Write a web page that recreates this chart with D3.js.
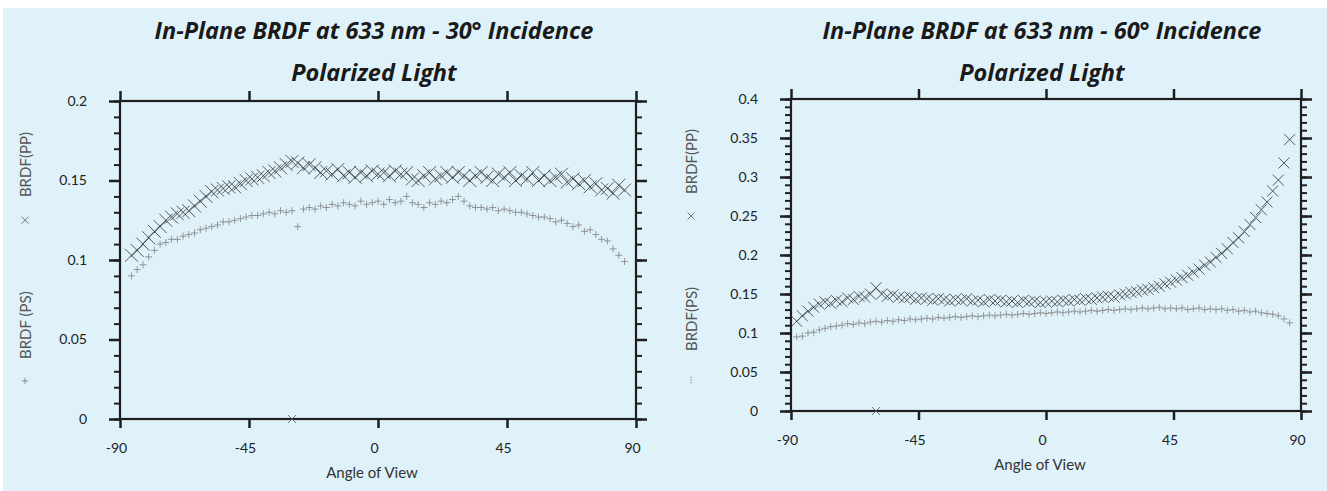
<!DOCTYPE html>
<html>
<head>
<meta charset="utf-8">
<script src="https://cdn.jsdelivr.net/npm/d3@7"></script>
<style>
  body { margin: 0; background: #fff; }
  svg { display: block; }
  .axis text { font-family: Lato, "Open Sans", sans-serif; font-size: 14px; fill: #222; }
  .title { font-family: "Open Sans", sans-serif; font-weight: bold; font-style: italic; font-size: 23.5px; fill: #1a1a1a; }
  .ylab { font-family: Lato, "Open Sans", sans-serif; font-size: 15px; fill: #555; }
  .xlab { font-family: Lato, "Open Sans", sans-serif; font-size: 15px; fill: #333; }
</style>
</head>
<body>
<script>
// ---- data ----
const xTicks = [-90, -45, 0, 45, 90];

// 30 deg incidence
const angles30 = [
  -86, -84, -82, -80, -78, -76, -74, -72, -70, -68,
  -66, -64, -62, -60, -58, -56, -54, -52, -50, -48,
  -46, -44, -42, -40, -38, -36, -34, -32, -30, -28,
  -26, -24, -22, -20, -18, -16, -14, -12, -10, -8,
  -6, -4, -2, 0, 2, 4, 6, 8, 10, 12,
  14, 16, 18, 20, 22, 24, 26, 28, 30, 32,
  34, 36, 38, 40, 42, 44, 46, 48, 50, 52,
  54, 56, 58, 60, 62, 64, 66, 68, 70, 72,
  74, 76, 78, 80, 82, 84, 86];
const pp30 = [
  0.103, 0.106, 0.110, 0.114, 0.118, 0.121, 0.125, 0.127, 0.129, 0.130,
  0.131, 0.134, 0.137, 0.140, 0.143, 0.144, 0.145, 0.146, 0.146, 0.148,
  0.150, 0.151, 0.152, 0.153, 0.155, 0.156, 0.158, 0.160, 0.162, 0.161,
  0.158, 0.160, 0.158, 0.155, 0.156, 0.154, 0.157, 0.153, 0.155, 0.152,
  0.155, 0.153, 0.156, 0.154, 0.155, 0.153, 0.156, 0.154, 0.155, 0.151,
  0.150, 0.153, 0.155, 0.151, 0.153, 0.155, 0.152, 0.155, 0.153, 0.150,
  0.153, 0.155, 0.152, 0.150, 0.154, 0.152, 0.155, 0.150, 0.153, 0.151,
  0.155, 0.150, 0.153, 0.150, 0.152, 0.154, 0.149, 0.151, 0.148, 0.150,
  0.146, 0.148, 0.144, 0.145, 0.142, 0.147, 0.144];
const ps30 = [
  0.090, 0.094, 0.097, 0.102, 0.106, 0.110, 0.111, 0.113, 0.113, 0.115,
  0.116, 0.117, 0.119, 0.120, 0.121, 0.122, 0.124, 0.124, 0.125, 0.126,
  0.127, 0.128, 0.128, 0.129, 0.130, 0.129, 0.131, 0.130, 0.131, 0.121,
  0.132, 0.133, 0.132, 0.134, 0.133, 0.135, 0.134, 0.136, 0.135, 0.134,
  0.137, 0.135, 0.136, 0.137, 0.135, 0.138, 0.136, 0.137, 0.140, 0.136,
  0.135, 0.133, 0.136, 0.135, 0.137, 0.136, 0.138, 0.140, 0.137, 0.134,
  0.133, 0.133, 0.132, 0.133, 0.131, 0.132, 0.131, 0.130, 0.130, 0.129,
  0.128, 0.127, 0.127, 0.126, 0.124, 0.125, 0.123, 0.121, 0.122, 0.118,
  0.119, 0.116, 0.113, 0.112, 0.107, 0.103, 0.099];
const yTicks30 = [0, 0.05, 0.1, 0.15, 0.2];
const blocked30 = [-30];   // detector blocks the retro direction: value 0

// 60 deg incidence
const angles60 = [
  -88, -86, -84, -82, -80, -78, -76, -74, -72, -70,
  -68, -66, -64, -62, -60, -58, -56, -54, -52, -50,
  -48, -46, -44, -42, -40, -38, -36, -34, -32, -30,
  -28, -26, -24, -22, -20, -18, -16, -14, -12, -10,
  -8, -6, -4, -2, 0, 2, 4, 6, 8, 10,
  12, 14, 16, 18, 20, 22, 24, 26, 28, 30,
  32, 34, 36, 38, 40, 42, 44, 46, 48, 50,
  52, 54, 56, 58, 60, 62, 64, 66, 68, 70,
  72, 74, 76, 78, 80, 82, 84, 86];
const pp60 = [
  0.115, 0.122, 0.128, 0.133, 0.137, 0.140, 0.138, 0.142, 0.140, 0.145,
  0.143, 0.147, 0.146, 0.150, 0.158, 0.150, 0.147, 0.149, 0.146, 0.145,
  0.146, 0.143, 0.145, 0.144, 0.142, 0.144, 0.143, 0.141, 0.143, 0.142,
  0.144, 0.141, 0.142, 0.140, 0.143, 0.141, 0.142, 0.140, 0.141, 0.139,
  0.142, 0.140, 0.141, 0.139, 0.140, 0.141, 0.140, 0.142, 0.141, 0.143,
  0.142, 0.144, 0.143, 0.145, 0.146, 0.147, 0.146, 0.149, 0.150, 0.152,
  0.153, 0.155, 0.156, 0.158, 0.160, 0.163, 0.165, 0.168, 0.171, 0.174,
  0.178, 0.182, 0.187, 0.191, 0.197, 0.202, 0.208, 0.216, 0.222, 0.230,
  0.239, 0.248, 0.258, 0.268, 0.282, 0.296, 0.318, 0.348];
const ps60 = [
  0.095, 0.096, 0.100, 0.101, 0.104, 0.106, 0.108, 0.109, 0.110, 0.112,
  0.111, 0.113, 0.112, 0.114, 0.115, 0.114, 0.116, 0.115, 0.117, 0.116,
  0.118, 0.117, 0.118, 0.119, 0.118, 0.120, 0.119, 0.120, 0.121, 0.120,
  0.121, 0.122, 0.121, 0.122, 0.123, 0.122, 0.123, 0.124, 0.123, 0.124,
  0.125, 0.124, 0.125, 0.126, 0.125, 0.126, 0.127, 0.126, 0.127, 0.128,
  0.127, 0.128, 0.129, 0.128, 0.129, 0.130, 0.129, 0.130, 0.131, 0.130,
  0.131, 0.132, 0.131, 0.132, 0.133, 0.131, 0.132, 0.131, 0.132, 0.130,
  0.131, 0.132, 0.130, 0.131, 0.130, 0.131, 0.129, 0.130, 0.128, 0.129,
  0.127, 0.128, 0.126, 0.125, 0.124, 0.122, 0.118, 0.113];
const yTicks60 = [0, 0.05, 0.1, 0.15, 0.2, 0.25, 0.3, 0.35, 0.4];
const blocked60 = [-60];

// ---- drawing ----
const W = 1327, H = 491;

const svg = d3.select('body').append('svg')
  .attr('width', W)
  .attr('height', H);

svg.append('rect')
  .attr('x', 3).attr('y', 8)
  .attr('width', W - 3).attr('height', H - 8)
  .attr('fill', '#dff2fa');

const panels = [
  { left: 120, top: 101, width: 516, height: 318, yMax: 0.2, yTicks: yTicks30,
    title: 'In-Plane BRDF at 633 nm - 30\u00b0 Incidence',
    angles: angles30, pp: pp30, ps: ps30, blocked: blocked30,
    ppSize: 6.5, psLabel: 'BRDF (PS)', psGlyph: 'plus', lx: -95 },
  { left: 791, top: 99, width: 510, height: 312, yMax: 0.4, yTicks: yTicks60,
    title: 'In-Plane BRDF at 633 nm - 60\u00b0 Incidence',
    angles: angles60, pp: pp60, ps: ps60, blocked: blocked60,
    ppSize: 5.5, psLabel: 'BRDF(PS)', psGlyph: 'dots', lx: -100 }
];

const cross = s => `M${-s},${-s}L${s},${s}M${-s},${s}L${s},${-s}`;
const plus = s => `M${-s},0L${s},0M0,${-s}L0,${s}`;
const fmt = d => String(+d.toFixed(2));

const styleTicks = (sel, w) => {
  sel.select('.domain').remove();
  sel.selectAll('.tick line').attr('stroke', '#1e1e1e').attr('stroke-width', w);
};

panels.forEach(p => {
  const x = d3.scaleLinear().domain([-90, 90]).range([0, p.width]);
  const y = d3.scaleLinear().domain([0, p.yMax]).range([p.height, 0]);
  const minor = d3.range(0, Math.round(p.yMax * 100) + 1).map(i => i / 100);
  const cx = p.left + p.width / 2;

  // titles
  svg.append('text').attr('class', 'title')
    .attr('x', cx - 4).attr('y', 39).attr('text-anchor', 'middle')
    .text(p.title);
  svg.append('text').attr('class', 'title')
    .attr('x', cx - 4).attr('y', 81).attr('text-anchor', 'middle')
    .text('Polarized Light');

  const g = svg.append('g')
    .attr('transform', `translate(${p.left},${p.top})`);

  // y axes (left + right), minor and major
  g.append('g').attr('class', 'axis')
    .call(d3.axisLeft(y).tickValues(minor).tickSize(6).tickFormat(''))
    .call(styleTicks, 2);
  g.append('g').attr('class', 'axis')
    .call(d3.axisLeft(y).tickValues(p.yTicks).tickSize(11).tickPadding(22).tickFormat(fmt))
    .call(styleTicks, 2.5);
  g.append('g').attr('class', 'axis')
    .attr('transform', `translate(${p.width},0)`)
    .call(d3.axisRight(y).tickValues(minor).tickSize(6).tickFormat(''))
    .call(styleTicks, 2);
  g.append('g').attr('class', 'axis')
    .attr('transform', `translate(${p.width},0)`)
    .call(d3.axisRight(y).tickValues(p.yTicks).tickSize(11).tickFormat(''))
    .call(styleTicks, 2.5);

  // x axes (top + bottom)
  g.append('g').attr('class', 'axis')
    .call(d3.axisTop(x).tickValues(xTicks).tickSize(10).tickFormat(''))
    .call(styleTicks, 2.5);
  const xb = g.append('g').attr('class', 'axis')
    .attr('transform', `translate(0,${p.height})`)
    .call(d3.axisBottom(x).tickValues(xTicks).tickSize(9).tickPadding(15).tickFormat(d => String(d)))
    .call(styleTicks, 2.5);
  xb.selectAll('.tick text').attr('dx', -4);

  // frame
  g.append('rect')
    .attr('width', p.width).attr('height', p.height)
    .attr('fill', 'none').attr('stroke', '#1e1e1e').attr('stroke-width', 2.2);

  // PS points
  g.append('g').selectAll('path')
    .data(p.angles.map((a, i) => [a, p.ps[i]]))
    .join('path')
      .attr('transform', d => `translate(${x(d[0])},${y(d[1])})`)
      .attr('d', plus(3.5))
      .attr('fill', 'none').attr('stroke', '#808080').attr('stroke-width', 0.8);

  // PP points
  g.append('g').selectAll('path')
    .data(p.angles.map((a, i) => [a, p.pp[i]]))
    .join('path')
      .attr('transform', d => `translate(${x(d[0])},${y(d[1])})`)
      .attr('d', cross(p.ppSize))
      .attr('fill', 'none').attr('stroke', '#333').attr('stroke-width', 0.8);

  // blocked (zero) reading
  g.append('g').selectAll('path')
    .data(p.blocked)
    .join('path')
      .attr('transform', d => `translate(${x(d)},${y(0)})`)
      .attr('d', cross(4))
      .attr('fill', 'none').attr('stroke', '#555').attr('stroke-width', 0.8);

  // x axis title
  g.append('text').attr('class', 'xlab')
    .attr('x', p.width / 2 - 6).attr('y', p.height + 59)
    .attr('text-anchor', 'middle')
    .text('Angle of View');

  // rotated y labels with legend glyphs
  const lx = p.lx;
  g.append('text').attr('class', 'ylab')
    .attr('transform', `translate(${lx + 6},${p.height * 0.2}) rotate(-90)`)
    .attr('text-anchor', 'middle')
    .text('BRDF(PP)');
  g.append('path')
    .attr('transform', `translate(${lx},${p.height * 0.375})`)
    .attr('d', cross(3.5))
    .attr('fill', 'none').attr('stroke', '#555').attr('stroke-width', 0.8);
  g.append('text').attr('class', 'ylab')
    .attr('transform', `translate(${lx + 6},${p.height * 0.705}) rotate(-90)`)
    .attr('text-anchor', 'middle')
    .text(p.psLabel);
  if (p.psGlyph === 'plus') {
    g.append('path')
      .attr('transform', `translate(${lx},${p.height * 0.88})`)
      .attr('d', plus(3))
      .attr('fill', 'none').attr('stroke', '#777').attr('stroke-width', 0.8);
  } else {
    g.append('g').selectAll('circle')
      .data([-1, 0, 1])
      .join('circle')
        .attr('cx', lx).attr('cy', d => p.height * 0.9 + d * 2.5)
        .attr('r', 0.7).attr('fill', '#888');
  }
});
</script>
</body>
</html>
